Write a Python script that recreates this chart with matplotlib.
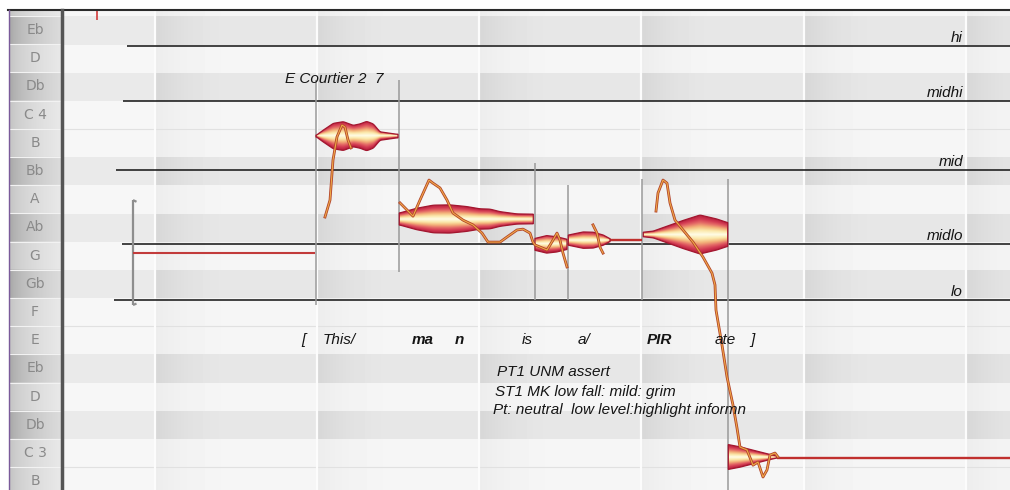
import numpy as np
import matplotlib
matplotlib.use("Agg")
import matplotlib.pyplot as plt
from matplotlib.colors import LinearSegmentedColormap
from matplotlib.lines import Line2D
from matplotlib.patches import Polygon

plt.rcParams['font.family'] = ['Liberation Sans', 'DejaVu Sans']

# ---------------- data ----------------
# pitch axis in MIDI numbers (C4 = 60), time axis in seconds
KEY_NAMES = ["Eb", "D", "Db", "C 4", "B", "Bb", "A", "Ab", "G", "Gb",
             "F", "E", "Eb", "D", "Db", "C 3", "B"]
KEY_PITCHES = list(range(63, 46, -1))
P_LO, P_HI = 46.69, 63.71
T_MAX = 9.48

BAR_STARTS = [0.93, 2.55, 4.17, 5.79, 7.42, 9.04]

LEVEL_NAMES = ["hi", "midhi", "mid", "midlo", "lo"]
LEVEL_PITCHES = [62.43, 60.48, 58.04, 55.41, 53.43]
LEVEL_STARTS = [0.65, 0.61, 0.54, 0.60, 0.52]
LEVEL_LABEL_T = 9.01

SEG_TIMES = [2.54, 3.37, 4.73, 5.06, 5.80, 6.66]
SEG_TOPS = [61.23, 61.23, 58.28, 57.50, 57.72, 57.72]
SEG_BOTTOMS = [53.25, 54.42, 53.43, 53.43, 53.43, P_LO]

REF_TONE_T = [0.71, 2.53]
REF_TONE_P = 55.10
BRACKET_T = 0.71
BRACKET_P = [53.25, 56.97]
MARK_T = 0.35
MARK_P = 63.35

# note blobs: centre pitch, time samples and half-width (semitones)
NOTE_CENTERS = [59.24, 56.30, 55.40, 55.55, 55.75, 47.86]
NOTE_T = [
    [2.54, 2.613, 2.713, 2.813, 2.913, 2.98, 3.047, 3.113, 3.18, 3.347, 3.36],
    [3.373, 3.547, 3.713, 3.88, 4.047, 4.18, 4.28, 4.38, 4.547, 4.713],
    [4.73, 4.847, 4.947, 5.05],
    [5.063, 5.213, 5.313, 5.413, 5.48],
    [5.813, 5.913, 6.047, 6.213, 6.38, 6.547, 6.657],
    [6.663, 6.78, 6.88, 6.98, 7.08, 7.15],
]
NOTE_HW = [
    [0.02, 0.21, 0.45, 0.51, 0.38, 0.43, 0.52, 0.43, 0.15, 0.065, 0.065],
    [0.21, 0.38, 0.49, 0.50, 0.44, 0.36, 0.35, 0.26, 0.18, 0.17],
    [0.21, 0.31, 0.27, 0.18],
    [0.18, 0.29, 0.28, 0.18, 0.05],
    [0.08, 0.12, 0.29, 0.50, 0.69, 0.55, 0.42],
    [0.44, 0.36, 0.27, 0.18, 0.09, 0.035],
]
SUSTAIN_T = [[5.48, 5.80], [7.15, T_MAX]]
SUSTAIN_P = [55.55, 47.84]

# pitch contour segments
CURVE_T = [
    [2.63, 2.68, 2.71, 2.75, 2.80, 2.83, 2.86, 2.89],
    [3.38, 3.45, 3.51, 3.58, 3.67, 3.71, 3.78, 3.85, 3.91, 4.01, 4.11, 4.20,
     4.26, 4.38, 4.45, 4.55, 4.61, 4.68, 4.71, 4.73, 4.85, 4.91, 4.95, 4.98,
     5.01, 5.05],
    [5.31, 5.35, 5.38, 5.41],
    [5.94, 5.96, 6.01, 6.05, 6.08, 6.13, 6.21, 6.31, 6.41, 6.50, 6.53, 6.54,
     6.60, 6.65, 6.71, 6.75, 6.78, 6.85, 6.91, 6.96, 7.01, 7.05, 7.08, 7.13,
     7.16],
]
CURVE_P = [
    [56.37, 56.97, 58.39, 59.21, 59.63, 59.56, 59.10, 58.82],
    [56.87, 56.62, 56.40, 56.97, 57.68, 57.57, 57.40, 56.97, 56.51, 56.26,
     56.09, 55.80, 55.48, 55.48, 55.66, 55.91, 55.94, 55.80, 55.48, 55.38,
     55.20, 55.55, 55.80, 55.55, 55.09, 54.60],
    [56.09, 55.80, 55.30, 55.09],
    [56.58, 57.22, 57.68, 57.57, 56.87, 56.26, 55.91, 55.48, 54.95, 54.38,
     53.96, 53.07, 51.83, 50.70, 49.70, 48.89, 48.21, 48.11, 47.57, 47.68,
     47.15, 47.40, 47.93, 48.00, 47.86],
]

TITLE_TEXT = "E Courtier 2  7"
TITLE_T, TITLE_P = 2.23, 61.26

LYRICS = ["[", "This/", "ma", "n", "is", "a/", "PIR", "ate", "]"]
LYRIC_T = [2.39, 2.61, 3.50, 3.93, 4.60, 5.16, 5.85, 6.53, 6.88]
LYRIC_BOLD = [False, False, True, True, False, False, True, False, False]
LYRIC_P = 52.01

NOTES_TEXT = ["PT1 UNM assert",
              "ST1 MK low fall: mild: grim",
              "Pt: neutral  low level:highlight informn"]
NOTES_T = [4.35, 4.33, 4.31]
NOTES_P = [50.87, 50.16, 49.52]

# ---------------- figure ----------------
W, H = 1010, 490
fig = plt.figure(figsize=(W / 100, H / 100), dpi=100)
fig.patch.set_facecolor("white")

ax = fig.add_axes([62 / W, 0, (W - 62) / W, 480 / H])
kb = fig.add_axes([9 / W, 0, 52 / W, 480 / H])
for a in (ax, kb):
    a.set_axis_off()

# background rows with bar shading
nx, ny = 1896, 960
tt = np.linspace(0, T_MAX, nx)
pp = np.linspace(P_LO, P_HI, ny)
semi = np.round(pp).astype(int) % 12
is_black = np.isin(semi, [1, 3, 6, 8, 10])[:, None]
bars = np.array(BAR_STARTS)
idx = np.searchsorted(bars, tt, side="right") - 1
inbar = idx >= 0
phase = np.where(inbar, tt - bars[np.clip(idx, 0, None)], 0.0)
k = np.clip(phase / 0.8, 0, 1)
k = 1 - (1 - k) ** 2
black_val = np.where(inbar, 0.84 + 0.065 * k, 0.915)
white_val = np.where(inbar, 0.927 + 0.035 * k, 0.966)
bg = np.where(is_black, black_val[None, :], white_val[None, :])
ax.imshow(bg, cmap="gray", vmin=0, vmax=1, extent=(0, T_MAX, P_LO, P_HI),
          origin="lower", aspect="auto", interpolation="nearest", zorder=0)

# separators between adjacent white keys
for pc in KEY_PITCHES:
    if pc % 12 in (0, 5):
        ax.axhline(pc - 0.5, color="#e1e1e1", lw=0.8, zorder=0.5)

ax.vlines(BAR_STARTS, P_LO, P_HI, color="#fcfcfc", lw=1.6, zorder=1)

# level lines with labels
ax.hlines(LEVEL_PITCHES, LEVEL_STARTS, T_MAX, color="#111111", lw=1.1, zorder=2)
for name, lv in zip(LEVEL_NAMES, LEVEL_PITCHES):
    ax.annotate(name, xy=(LEVEL_LABEL_T, lv), xytext=(0, 2.6),
                textcoords="offset points", ha="right", va="baseline",
                fontsize=11, style="italic", color="#151515", zorder=6)

# segment boundaries
ax.vlines(SEG_TIMES, SEG_BOTTOMS, SEG_TOPS, color="#9a9a9a", lw=1.1, zorder=2)

# reference tone, bracket and marker
ax.hlines(REF_TONE_P, REF_TONE_T[0], REF_TONE_T[1], color="#c23b3b", lw=1.5, zorder=3)
ax.vlines(BRACKET_T, BRACKET_P[0], BRACKET_P[1], color="#8e8e8e", lw=1.6, zorder=2)
ax.plot([BRACKET_T, BRACKET_T + 0.035], [BRACKET_P[1], BRACKET_P[1] - 0.06],
        color="#8e8e8e", lw=1.6, zorder=2, solid_capstyle="butt")
ax.plot([BRACKET_T, BRACKET_T + 0.035], [BRACKET_P[0], BRACKET_P[0] + 0.05],
        color="#8e8e8e", lw=1.6, zorder=2, solid_capstyle="butt")
ax.vlines(MARK_T, MARK_P, P_HI, color="#d23b3b", lw=1.2, zorder=3)

# note blobs
note_cmap = LinearSegmentedColormap.from_list(
    "note", [(0.0, "#fffce6"), (0.22, "#fbe8aa"), (0.42, "#f3b37a"),
             (0.62, "#e46a66"), (0.8, "#d23a52"), (1.0, "#b51d3c")])


def smooth(y, n):
    w = np.hanning(n)
    w /= w.sum()
    ypad = np.pad(y, n // 2, mode="edge")
    return np.convolve(ypad, w, mode="valid")[:len(y)]


for ts, hws, pc in zip(NOTE_T, NOTE_HW, NOTE_CENTERS):
    nt = np.linspace(ts[0], ts[-1], 400)
    hw = smooth(np.interp(nt, ts, hws), 25)
    hmax = hw.max() * 1.05
    npp = np.linspace(pc - hmax, pc + hmax, 240)
    d = np.abs(npp[:, None] - pc) / np.maximum(hw[None, :], 1e-4)
    rgba = note_cmap(np.clip(d, 0, 1))
    im = ax.imshow(rgba, extent=(nt[0], nt[-1], npp[0], npp[-1]),
                   origin="lower", aspect="auto", interpolation="bilinear",
                   zorder=3)
    verts = np.concatenate([np.column_stack([nt, pc + hw]),
                            np.column_stack([nt[::-1], (pc - hw)[::-1]])])
    poly = Polygon(verts, closed=True, facecolor="none", edgecolor="#a3172f",
                   lw=0.9, zorder=4)
    ax.add_patch(poly)
    im.set_clip_path(poly)

for (t0, t1), sp in zip(SUSTAIN_T, SUSTAIN_P):
    ax.hlines(sp, t0, t1, color="#c0302e", lw=1.7, zorder=3)

# pitch contour
for ct, cp in zip(CURVE_T, CURVE_P):
    ax.plot(ct, cp, color="#b2432a", lw=2.0, zorder=5, solid_joinstyle="round")
    ax.plot(ct, cp, color="#efaa48", lw=0.8, zorder=5.1, solid_joinstyle="round")

# texts
txt_kw = dict(fontsize=11, style="italic", color="#151515", zorder=6)
ax.text(TITLE_T, TITLE_P, TITLE_TEXT, ha="left", va="center", **txt_kw)
for s, t, b in zip(LYRICS, LYRIC_T, LYRIC_BOLD):
    ax.text(t, LYRIC_P, s, ha="left", va="center",
            fontweight="bold" if b else "normal", **txt_kw)
for s, t, p in zip(NOTES_TEXT, NOTES_T, NOTES_P):
    ax.text(t, p, s, ha="left", va="center", **txt_kw)

ax.set_xlim(0, T_MAX)
ax.set_ylim(P_LO, P_HI)

# keyboard strip
kx = np.linspace(0, 1, 200)
kp = np.linspace(P_LO, P_HI, 960)
ksemi = np.round(kp).astype(int) % 12
kblack = np.isin(ksemi, [1, 3, 6, 8, 10])[:, None]
ramp = np.sqrt(kx)[None, :]
kimg = np.where(kblack, 0.62 + 0.24 * ramp, 0.74 + 0.17 * ramp)
kb.imshow(kimg, cmap="gray", vmin=0, vmax=1, extent=(0, 1, P_LO, P_HI),
          origin="lower", aspect="auto", interpolation="bilinear", zorder=0)
for pc in KEY_PITCHES:
    kb.axhline(pc + 0.5, color="#f2f2f2", lw=0.8, zorder=1)
for name, pc in zip(KEY_NAMES, KEY_PITCHES):
    kb.text(0.5, pc, name, ha="center", va="center", fontsize=10,
            family="DejaVu Sans", color="#8a8a8a", zorder=2)
kb.set_xlim(0, 1)
kb.set_ylim(P_LO, P_HI)

# frame lines
fig.add_artist(Line2D([8 / W, 1], [480 / H, 480 / H], color="#2a2a2a", lw=1.5))
fig.add_artist(Line2D([61.5 / W, 61.5 / W], [0, 480 / H], color="#555555", lw=2.5))
fig.add_artist(Line2D([8.5 / W, 8.5 / W], [0, 480 / H], color="#7a5a9a", lw=1.0))

fig.savefig("out.png", dpi=100, facecolor="white")
